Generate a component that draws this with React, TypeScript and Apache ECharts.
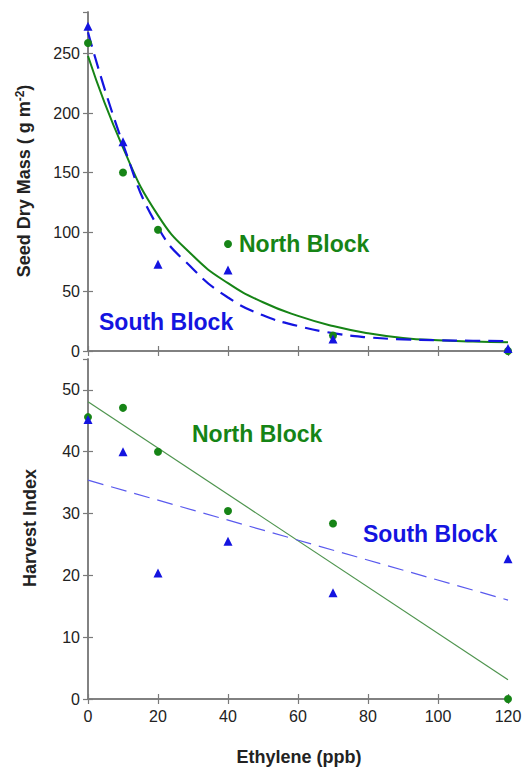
import React, { useEffect, useRef } from "react";
import * as echarts from "echarts";

// ---- Data ----
const ethylene = [0, 10, 20, 40, 70, 120];

// Seed dry mass (g m-2)
const massNorth = [259, 150, 102, 90, 13, 0];
const massSouth = [273, 176, 73, 68, 10, 2];

// Fitted curves
const curveX = [0, 10, 20, 30, 40, 50, 60, 70, 80, 90, 100, 110, 120];
const curveNorth = [248, 171, 114, 80, 57, 41, 29.5, 21, 15, 11, 9, 8, 7.4];
const curveSouth = [268, 174, 104, 69, 45, 30, 21, 15, 11.5, 9.8, 9, 8.6, 8.3];

// Harvest index
const hiNorth = [45.6, 47.1, 40.0, 30.4, 28.4, 0];
const hiSouth = [45.2, 40.0, 20.4, 25.5, 17.2, 22.7];

// Regression lines
const lineX = [0, 120];
const lineNorth = [48.1, 3.1];
const lineSouth = [35.4, 16.0];

const xTicks = [0, 20, 40, 60, 80, 100, 120];

const GREEN = "#168416";
const BLUE = "#1414e0";
const FRAME = "#7a7a7a";
const FONT = "'Liberation Sans', Arial, sans-serif";

const zip = (xs: number[], ys: number[]) => xs.map((x, i) => [x, ys[i]]);

export default function App() {
  const ref = useRef<HTMLDivElement>(null);

  useEffect(() => {
    if (!ref.current) return;
    const chart = echarts.init(ref.current, undefined, { renderer: "svg" });

    const tickStyle = { show: true, inside: true, length: 5, lineStyle: { color: FRAME, width: 1.2 } };
    const lineStyle = { show: true, lineStyle: { color: FRAME, width: 1.5 } };
    const labelStyle = { color: "#222", fontSize: 16, fontFamily: FONT };

    const xBase = (grid: number, position: "top" | "bottom", showLabel: boolean) => ({
      type: "value",
      gridIndex: grid,
      position,
      min: xTicks[0],
      max: xTicks[xTicks.length - 1],
      interval: 20,
      axisLine: lineStyle,
      axisTick: tickStyle,
      splitLine: { show: false },
      axisLabel: showLabel ? { ...labelStyle, margin: 9 } : { show: false },
    });

    const yBase = (grid: number, position: "left" | "right", max: number, interval: number, showLabel: boolean) => ({
      type: "value",
      gridIndex: grid,
      position,
      min: 0,
      max,
      interval,
      axisLine: lineStyle,
      axisTick: tickStyle,
      splitLine: { show: false },
      axisLabel: showLabel ? { ...labelStyle, margin: 8, showMaxLabel: false } : { show: false },
    });

    const option: any = {
      animation: false,
      grid: [
        { left: 88, top: 12, width: 420, height: 339, show: false },
        { left: 88, top: 359, width: 420, height: 340, show: false },
      ],
      xAxis: [
        xBase(0, "bottom", false),
        xBase(0, "top", false),
        xBase(1, "bottom", true),
        xBase(1, "top", false),
      ],
      yAxis: [
        yBase(0, "left", 285, 50, true),
        yBase(0, "right", 285, 50, false),
        yBase(1, "left", 55, 10, true),
        yBase(1, "right", 55, 10, false),
      ],
      series: [
        {
          type: "line",
          xAxisIndex: 0,
          yAxisIndex: 0,
          data: zip(curveX, curveNorth),
          smooth: 0.5,
          showSymbol: false,
          lineStyle: { color: GREEN, width: 2 },
          z: 2,
        },
        {
          type: "line",
          xAxisIndex: 0,
          yAxisIndex: 0,
          data: zip(curveX, curveSouth),
          smooth: 0.5,
          showSymbol: false,
          lineStyle: { color: BLUE, width: 2.2, type: [15, 8] },
          z: 3,
        },
        {
          type: "scatter",
          xAxisIndex: 0,
          yAxisIndex: 0,
          data: zip(ethylene, massNorth),
          symbol: "circle",
          symbolSize: 8,
          itemStyle: { color: GREEN, opacity: 1 },
          clip: false,
          z: 4,
        },
        {
          type: "scatter",
          xAxisIndex: 0,
          yAxisIndex: 0,
          data: zip(ethylene, massSouth),
          symbol: "triangle",
          symbolSize: 9,
          itemStyle: { color: BLUE, opacity: 1 },
          clip: false,
          z: 5,
        },
        {
          type: "line",
          xAxisIndex: 2,
          yAxisIndex: 2,
          data: zip(lineX, lineNorth),
          showSymbol: false,
          lineStyle: { color: "#4e944e", width: 1.2 },
          z: 2,
        },
        {
          type: "line",
          xAxisIndex: 2,
          yAxisIndex: 2,
          data: zip(lineX, lineSouth),
          showSymbol: false,
          lineStyle: { color: "#5a5aee", width: 1.2, type: [16, 8] },
          z: 2,
        },
        {
          type: "scatter",
          xAxisIndex: 2,
          yAxisIndex: 2,
          data: zip(ethylene, hiNorth),
          symbol: "circle",
          symbolSize: 8,
          itemStyle: { color: GREEN, opacity: 1 },
          clip: false,
          z: 4,
        },
        {
          type: "scatter",
          xAxisIndex: 2,
          yAxisIndex: 2,
          data: zip(ethylene, hiSouth),
          symbol: "triangle",
          symbolSize: 9,
          itemStyle: { color: BLUE, opacity: 1 },
          clip: false,
          z: 5,
        },
      ],
      graphic: [
        {
          type: "text",
          left: 239,
          top: 232,
          style: { text: "North Block", fill: GREEN, font: `bold 23px ${FONT}` },
        },
        {
          type: "text",
          left: 99,
          top: 310,
          style: { text: "South Block", fill: BLUE, font: `bold 23px ${FONT}` },
        },
        {
          type: "text",
          left: 192,
          top: 422,
          style: { text: "North Block", fill: GREEN, font: `bold 23px ${FONT}` },
        },
        {
          type: "text",
          left: 363,
          top: 522,
          style: { text: "South Block", fill: BLUE, font: `bold 23px ${FONT}` },
        },
        {
          type: "text",
          x: 24,
          y: 181,
          rotation: Math.PI / 2,
          style: {
            text: "Seed Dry Mass ( g m{sup|-2})",
            fill: "#222",
            font: `bold 18px ${FONT}`,
            align: "center",
            verticalAlign: "middle",
            rich: {
              sup: { fontSize: 12, fontWeight: "bold", fontFamily: FONT, fill: "#222", verticalAlign: "top", padding: [0, 0, 8, 0] },
            },
          },
        },
        {
          type: "text",
          x: 30,
          y: 528,
          rotation: Math.PI / 2,
          style: {
            text: "Harvest Index",
            fill: "#222",
            font: `bold 18px ${FONT}`,
            align: "center",
            verticalAlign: "middle",
          },
        },
        {
          type: "text",
          x: 299,
          y: 757,
          style: {
            text: "Ethylene (ppb)",
            fill: "#222",
            font: `bold 18px ${FONT}`,
            align: "center",
            verticalAlign: "middle",
          },
        },
      ],
    };

    chart.setOption(option);
    return () => chart.dispose();
  }, []);

  return <div ref={ref} style={{ width: 527, height: 768, position: "absolute", left: 0, top: 0 }} />;
}
